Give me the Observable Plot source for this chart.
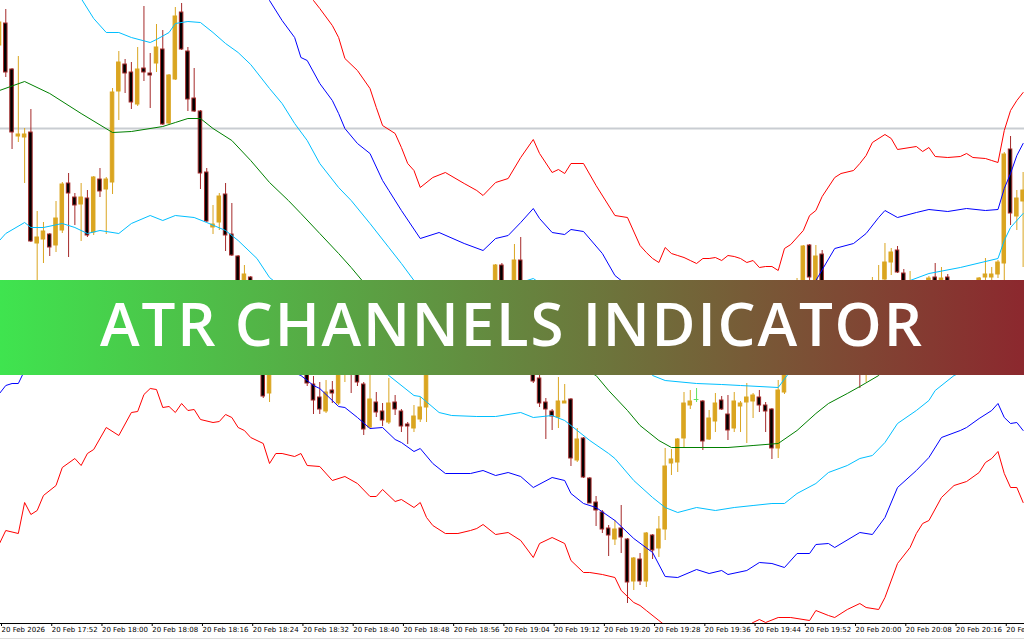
<!DOCTYPE html>
<html><head><meta charset="utf-8">
<script src="https://cdn.jsdelivr.net/npm/d3@7"></script>
<script src="https://cdn.jsdelivr.net/npm/@observablehq/plot@0.6"></script>
<style>
html,body{margin:0;padding:0;background:#fff;overflow:hidden;}
#wrap{position:relative;width:1024px;height:638px;border-bottom:1px solid #dcdcdc;overflow:hidden;background:#fff;}
#banner{position:absolute;left:0;top:280px;width:1024px;height:95px;background:linear-gradient(to right,#3fe44f,#8c282e);}
#banner svg{display:block;}
</style></head><body>
<div id="wrap"><div id="chart"></div>
<div id="banner"><svg width="1024" height="95"><text x="100" y="66" textLength="822" lengthAdjust="spacing" fill="#ffffff" font-family="'Open Sans', Lato, sans-serif" font-weight="600" font-size="60">ATR CHANNELS INDICATOR</text></svg></div>
</div>
<script>
// one-minute candles starting 20 Feb 2026 17:44 (index = minutes since 17:44)
const open = [655,677,631,564,563,568,457,461,466,455,
470,517,503,496,502,468,521,511,518,609,
636,628,596,632,627,637,651,577,621,688,
649,602,589,528,473,478,506,466,444,380,
423,370,350,307,340,330,355,365,345,340,
316,303,289,310,297,328,350,335,316,273,
298,289,278,298,289,276,272,281,293,348,
365,355,375,388,370,382,372,400,408,400,
435,400,405,440,390,360,322,298,289,283,
297,301,240,262,222,198,188,172,161,172,
161,119,141,119,165,152,171,237,238,262,
295,301,299,261,279,300,286,272,294,298,
299,303,295,291,252,308,370,400,410,455,
400,446,400,380,395,375,385,370,345,385,
400,421,438,450,427,400,415,405,410,423,
408,423,408,400,410,415,410,423,423,426,
437,551,484,499];
const high = [685,691,632,644,572,591,489,478,467,499,
518,527,507,517,510,524,532,523,612,649,
641,638,653,694,647,676,670,626,693,697,
653,632,590,532,495,507,517,497,445,435,
424,375,355,345,350,360,375,370,350,345,
324,318,320,319,340,350,355,350,318,332,
308,297,322,305,291,278,295,303,355,370,
372,380,395,392,390,388,405,414,412,436,
437,415,456,463,395,365,325,302,291,323,
316,302,272,263,223,204,190,175,180,195,
162,143,147,168,166,184,252,251,262,308,
310,312,300,290,307,304,305,308,299,317,
307,310,298,292,320,380,405,422,455,456,
455,450,405,400,400,390,390,380,375,423,
435,457,452,454,431,429,418,419,424,437,
433,426,413,416,419,418,423,442,433,440,
548,564,510,528];
const low = [650,623,551,558,517,458,415,437,444,448,
467,443,475,459,463,465,503,466,506,580,
607,591,594,619,592,628,575,576,620,650,
589,588,511,478,466,470,449,444,390,375,
365,345,302,298,326,327,350,340,328,314,
286,286,287,297,295,318,307,314,265,272,
283,274,276,285,268,256,268,278,278,344,
350,352,370,365,364,366,368,395,390,395,
395,390,400,385,355,317,293,261,270,272,
297,234,238,222,197,174,167,144,155,147,
97,110,115,113,141,143,160,225,228,253,
291,298,250,260,268,290,260,268,268,257,
282,288,268,241,242,306,365,395,405,419,
395,390,375,375,370,370,362,312,318,380,
395,415,425,427,395,395,400,402,405,400,
403,404,395,397,405,403,407,415,418,422,
420,475,470,433];
const close = [678,628,568,566,566,459,463,469,453,482,
516,507,495,503,465,523,509,521,608,638,
627,598,631,628,625,653,576,625,684,651,
601,589,527,479,476,504,465,445,400,426,
370,350,304,340,330,355,365,345,332,317,
300,291,308,307,335,345,328,318,271,301,
288,280,297,291,274,274,284,293,350,365,
355,375,388,370,382,372,400,408,395,435,
400,410,440,390,360,319,297,291,284,299,
299,242,261,223,197,190,171,165,171,163,
118,142,119,167,150,171,234,241,261,297,
299,301,259,282,297,291,270,299,297,303,
305,295,289,252,310,370,400,415,454,423,
444,400,380,395,375,385,370,350,370,405,
415,438,448,428,400,415,405,415,422,405,
422,408,400,410,415,408,422,426,426,438,
546,487,502,510];

// ATR channel lines: [minute index, price]
const middleMA = [[0,610],[4,619],[8,607],[13,587],[18,568],[21,569],[26,574],[28,578],[30,582],[32,582],[34,572],[37,560],[40,540],[43,518],[46,500],[48,487],[51,467],[54,447],[56,433],[58,418],[61,398],[64,377],[67,360],[70,350],[73,345],[77,342],[80,345],[83,350],[86,348],[89,342],[92,334],[95,325],[97,310],[100,290],[102,275],[105,260],[107,253],[112,253],[116,253],[120,255],[124,257],[127,270],[130,287],[132,297],[135,307],[137,314],[140,325],[143,348],[148,367],[154,382],[159,393],[161,402],[163,413]];
const upperCyan = [[0,760],[4,760],[8,740],[13,702],[15,682],[17,668],[19,668],[21,663],[24,658],[25,661],[27,668],[28,677],[30,679],[32,678],[34,668],[36,657],[38,648],[40,636],[43,612],[45,597],[47,577],[49,560],[51,537],[54,513],[56,500],[59,477],[62,453],[64,437],[66,420],[70,412],[76,406],[80,412],[83,418],[85,422],[88,409],[94,400],[97,373],[101,350],[104,325],[106,320],[111,317],[115,316],[118,315],[124,313],[126,330],[130,357],[135,379],[139,399],[143,419],[145,420],[148,427],[153,433],[159,442],[160,460],[161,473],[163,487]];
const lowerCyan = [[0,460],[1,467],[4,478],[5,473],[7,473],[10,477],[12,473],[14,467],[16,470],[19,467],[21,477],[24,485],[26,480],[28,485],[31,483],[33,478],[36,470],[38,460],[41,442],[43,423],[44,418],[48,410],[51,397],[56,366],[59,343],[62,325],[66,305],[67,304],[70,288],[72,285],[76,284],[79,284],[83,288],[85,283],[88,285],[90,280],[94,260],[97,247],[98,242],[101,220],[104,203],[106,193],[108,188],[111,193],[114,190],[117,193],[120,195],[123,197],[125,197],[127,207],[130,217],[132,228],[135,235],[137,242],[139,245],[141,258],[143,277],[146,290],[148,300],[149,310],[152,325],[159,344],[163,339]];
const upperBlue = [[0,912],[8,850],[16,770],[24,760],[32,774],[40,729],[43,700],[45,680],[47,663],[48,643],[49,640],[51,617],[53,600],[54,587],[55,572],[57,557],[59,547],[61,520],[62,510],[64,490],[67,462],[70,468],[74,457],[77,450],[79,462],[81,465],[83,478],[85,492],[86,482],[88,468],[90,466],[91,471],[93,469],[96,447],[98,425],[99,420],[104,387],[112,381],[124,369],[128,408],[130,420],[133,452],[136,457],[138,467],[140,483],[141,490],[143,483],[146,488],[148,491],[151,489],[154,492],[157,490],[159,491],[160,512],[161,527],[162,545],[163,557]];
const lowerBlue = [[0,307],[1,315],[2,317],[3,317],[4,330],[8,341],[16,360],[24,391],[32,383],[40,361],[44,335],[48,325],[50,315],[51,312],[54,294],[55,293],[57,283],[59,272],[61,273],[63,261],[64,258],[66,249],[67,252],[69,237],[71,227],[75,227],[77,230],[79,225],[81,228],[83,224],[85,213],[88,223],[90,220],[91,207],[93,197],[95,193],[98,180],[101,162],[104,148],[106,124],[108,123],[111,131],[113,127],[115,130],[116,126],[119,130],[121,138],[123,137],[125,133],[127,147],[129,147],[130,156],[132,157],[133,153],[137,168],[139,166],[141,183],[143,213],[146,230],[148,243],[150,263],[153,270],[154,273],[156,282],[158,290],[159,297],[160,283],[161,277],[162,278],[163,270]];
const upperRed = [[0,1063],[4,1040],[8,995],[14,923],[17,871],[21,848],[24,838],[28,870],[32,881],[36,846],[40,817],[43,803],[47,746],[49,720],[50,700],[51,692],[53,675],[54,663],[55,642],[57,630],[59,612],[60,593],[61,575],[63,567],[64,553],[65,537],[66,530],[67,513],[69,523],[71,528],[74,517],[76,510],[77,505],[79,518],[81,522],[83,543],[85,561],[86,547],[88,528],[89,531],[90,527],[91,537],[93,537],[95,515],[98,485],[100,483],[102,455],[103,448],[104,442],[105,438],[106,453],[107,447],[108,445],[109,443],[110,440],[111,437],[112,442],[113,442],[114,443],[115,440],[116,445],[117,444],[118,442],[119,438],[120,440],[121,433],[122,434],[123,434],[124,430],[125,452],[126,456],[128,470],[129,485],[130,490],[131,504],[133,523],[134,527],[136,530],[137,537],[138,545],[139,558],[141,566],[142,562],[143,551],[146,554],[147,549],[148,553],[149,544],[151,543],[153,544],[154,547],[155,543],[157,542],[158,540],[159,538],[160,570],[161,590],[162,600],[163,608]];
const lowerRed = [[0,157],[1,170],[3,167],[4,198],[5,186],[6,190],[7,205],[9,215],[10,233],[12,242],[13,235],[14,247],[15,251],[17,273],[19,265],[21,288],[22,289],[23,306],[24,312],[25,311],[26,293],[27,294],[28,288],[29,297],[30,290],[31,291],[32,281],[34,278],[35,279],[36,286],[37,283],[38,273],[39,270],[40,263],[42,257],[43,237],[44,247],[45,247],[47,244],[48,247],[49,235],[51,234],[53,220],[55,224],[57,217],[59,204],[60,204],[61,211],[63,199],[64,201],[66,193],[67,198],[68,183],[69,175],[71,167],[73,167],[75,170],[76,172],[77,176],[79,166],[81,168],[83,160],[85,143],[86,157],[88,163],[90,157],[91,140],[93,128],[94,128],[96,126],[98,123],[99,110],[101,98],[102,95],[103,90],[105,80],[108,65],[112,60],[115,62],[118,70],[120,78],[121,81],[122,78],[124,83],[126,83],[129,80],[130,90],[132,85],[133,83],[135,91],[137,97],[138,93],[140,91],[141,103],[143,137],[145,153],[146,167],[147,177],[148,180],[150,203],[152,215],[154,219],[156,228],[157,238],[158,242],[159,249],[160,227],[161,213],[162,213],[163,198]];
const levelLine = [572];

const tickIdx = [0,8,16,24,32,40,48,56,64,72,80,88,96,104,112,120,128,136,144,152,160];
const tickLabels = ["20 Feb 2026","20 Feb 17:52","20 Feb 18:00","20 Feb 18:08","20 Feb 18:16","20 Feb 18:24","20 Feb 18:32","20 Feb 18:40","20 Feb 18:48","20 Feb 18:56","20 Feb 19:04","20 Feb 19:12","20 Feb 19:20","20 Feb 19:28","20 Feb 19:36","20 Feb 19:44","20 Feb 19:52","20 Feb 20:00","20 Feb 20:08","20 Feb 20:16","20 Feb 20:24"];

const candles = open.map((o, t) => ({t, o, h: high[t], l: low[t], c: close[t]}));
const kind = d => d.c > d.o ? "up" : d.c < d.o ? "down" : "flat";
const wickCol = {up: "#daa520", down: "#a52a2a", flat: "#5de35d"};
const fillCol = {up: "#daa520", down: "#000000", flat: "none"};
const strokeCol = {up: "#daa520", down: "#a52a2a", flat: "#5de35d"};
const bodies = candles.filter(d => kind(d) !== "flat");
const dojis = candles.filter(d => kind(d) === "flat");

const bands = [
  {data: upperRed, color: "#ff0000"},
  {data: upperBlue, color: "#0000ff"},
  {data: upperCyan, color: "#00bfff"},
  {data: middleMA, color: "#008000"},
  {data: lowerCyan, color: "#00bfff"},
  {data: lowerBlue, color: "#0000ff"},
  {data: lowerRed, color: "#ff0000"}
];

const hw = 0.28;
const chart = Plot.plot({
  width: 1024, height: 640,
  marginTop: 0, marginRight: 0, marginBottom: 17, marginLeft: 0,
  style: {background: "#ffffff", fontFamily: "'DejaVu Sans', sans-serif"},
  x: {type: "linear", domain: [0.159, 163.22]},
  y: {domain: [77, 700], axis: null},
  marks: [
    Plot.ruleY(levelLine, {stroke: "#c9cdd2", strokeWidth: 2}),
    Plot.ruleX(candles, {x: "t", y1: "l", y2: "h", stroke: d => wickCol[kind(d)], strokeWidth: 1, clip: true}),
    Plot.rect(bodies, {x1: d => d.t - hw, x2: d => d.t + hw, y1: "o", y2: "c", fill: d => fillCol[kind(d)], stroke: d => strokeCol[kind(d)], strokeWidth: 1, clip: true}),
    Plot.ruleY(dojis, {y: "o", x1: d => d.t - hw - 0.1, x2: d => d.t + hw + 0.1, stroke: "#5de35d", clip: true}),
    ...bands.map(b => Plot.line(b.data, {x: d => d[0], y: d => d[1], stroke: b.color, strokeWidth: 1, clip: true})),
    Plot.ruleY([77], {stroke: "#000", strokeWidth: 1}),
    Plot.axisX({ticks: tickIdx, tickFormat: d => tickLabels[tickIdx.indexOf(d)], tickSize: 3, tickPadding: 1, textAnchor: "start", dx: 2, fontSize: 7, color: "#000", label: null})
  ]
});
document.getElementById("chart").appendChild(chart);
</script>
</body></html>
